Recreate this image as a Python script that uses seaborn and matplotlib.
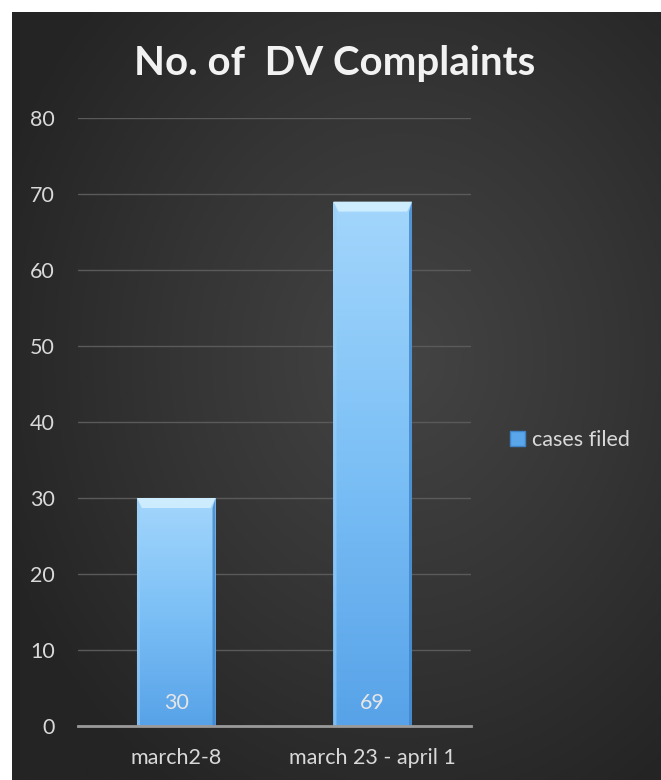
import numpy as np
import pandas as pd
import matplotlib
matplotlib.use("Agg")
import matplotlib.pyplot as plt
import seaborn as sns
from matplotlib.patches import Polygon, Patch
from matplotlib.colors import LinearSegmentedColormap

categories = ["march2-8", "march 23 - april 1"]
values = [30, 69]
series_name = "cases filed"
title = "No. of  DV Complaints"
yticks = [0, 10, 20, 30, 40, 50, 60, 70, 80]

sns.set_theme(style="dark")
plt.rcParams["font.family"] = ["Lato", "DejaVu Sans"]

W, H = 661, 780
fig = plt.figure(figsize=(W / 100, H / 100), dpi=100)
fig.patch.set_facecolor("white")

# background radial gradient
bg = fig.add_axes([12 / W, 0, (W - 12) / W, (H - 12) / H])
yy, xx = np.mgrid[0:1:400j, 0:1:400j]
r = np.sqrt(((xx - 0.6) / 0.9) ** 2 + ((yy - 0.45) / 0.9) ** 2)
bgcmap = LinearSegmentedColormap.from_list("bg", ["#444444", "#353535", "#242424"])
bg.imshow(r, cmap=bgcmap, aspect="auto", extent=[0, 1, 0, 1], vmin=0, vmax=0.75)
bg.set_axis_off()

ax = fig.add_axes([78 / W, (H - 726) / H, (471 - 78) / W, (726 - 118) / H])
ax.set_facecolor("none")

df = pd.DataFrame({"period": categories, "count": values})
sns.barplot(data=df, x="period", y="count", width=0.4, color="#6fb6f2",
            ax=ax, saturation=1, zorder=3)

ax.set_ylim(0, 80)
ax.set_yticks(yticks)
ax.set_xlim(-0.5, 1.5)
ax.yaxis.grid(True, color="#5a5a5a", linewidth=1)
ax.xaxis.grid(False)
for s in ["top", "right", "left"]:
    ax.spines[s].set_visible(False)
ax.spines["bottom"].set_color("#9a9a9a")
ax.spines["bottom"].set_linewidth(2)
ax.spines["bottom"].set_zorder(5)
ax.tick_params(axis="both", length=0, colors="#d9d9d9", labelsize=15.5)
ax.tick_params(axis="y", pad=16.5)
ax.tick_params(axis="x", pad=16)
ax.set_xlabel("")
ax.set_ylabel("")

barcmap = LinearSegmentedColormap.from_list("bar", ["#57a2e8", "#7cc0f6", "#a3d6fc"])
px_x = 0.4 / 78
px_y = 80 / 608
grad = np.linspace(0, 1, 256).reshape(-1, 1)
for p in ax.patches:
    x0, y0 = p.get_x(), p.get_y()
    w, h = p.get_width(), p.get_height()
    im = ax.imshow(grad, cmap=barcmap, origin="lower", aspect="auto",
                   extent=[x0, x0 + w, y0, y0 + h], zorder=3)
    im.set_clip_path(p)
    p.set_facecolor("none")
    p.set_edgecolor("none")
    bx, by = 5 * px_x, 10 * px_y
    sx = 3 * px_x
    top = Polygon([[x0, y0 + h], [x0 + w, y0 + h], [x0 + w - bx, y0 + h - by],
                   [x0 + bx, y0 + h - by]], closed=True, facecolor="#d2efff",
                  edgecolor="none", zorder=4, alpha=0.9)
    ax.add_patch(top)
    left = Polygon([[x0, y0], [x0, y0 + h], [x0 + sx, y0 + h - by], [x0 + sx, y0]],
                   closed=True, facecolor="#9ccff8", edgecolor="none", zorder=4, alpha=0.6)
    right = Polygon([[x0 + w, y0], [x0 + w, y0 + h], [x0 + w - sx, y0 + h - by],
                     [x0 + w - sx, y0]], closed=True, facecolor="#3f84c8",
                    edgecolor="none", zorder=4, alpha=0.8)
    ax.add_patch(left)
    ax.add_patch(right)
    ax.text(x0 + w / 2, 3.0, f"{int(round(h))}", ha="center", va="center",
            color="#e6e6e6", fontsize=15.5, zorder=6)

ax.set_xlim(-0.5, 1.5)
ax.set_ylim(0, 80)

leg = ax.legend(handles=[Patch(facecolor="#5aa6ea", edgecolor="#3f84c8", label=series_name)],
                loc="center left", bbox_to_anchor=(1.1, 0.47), frameon=False,
                borderaxespad=0, borderpad=0,
                fontsize=15.5, labelcolor="#d9d9d9", handlelength=0.7, handleheight=0.7,
                handletextpad=0.3)

fig.text(335 / W, (H - 64) / H, title, ha="center", va="center", fontsize=29,
         fontweight="bold", color="#f2f2f2")

fig.savefig("out.png", dpi=100, facecolor=fig.get_facecolor())
